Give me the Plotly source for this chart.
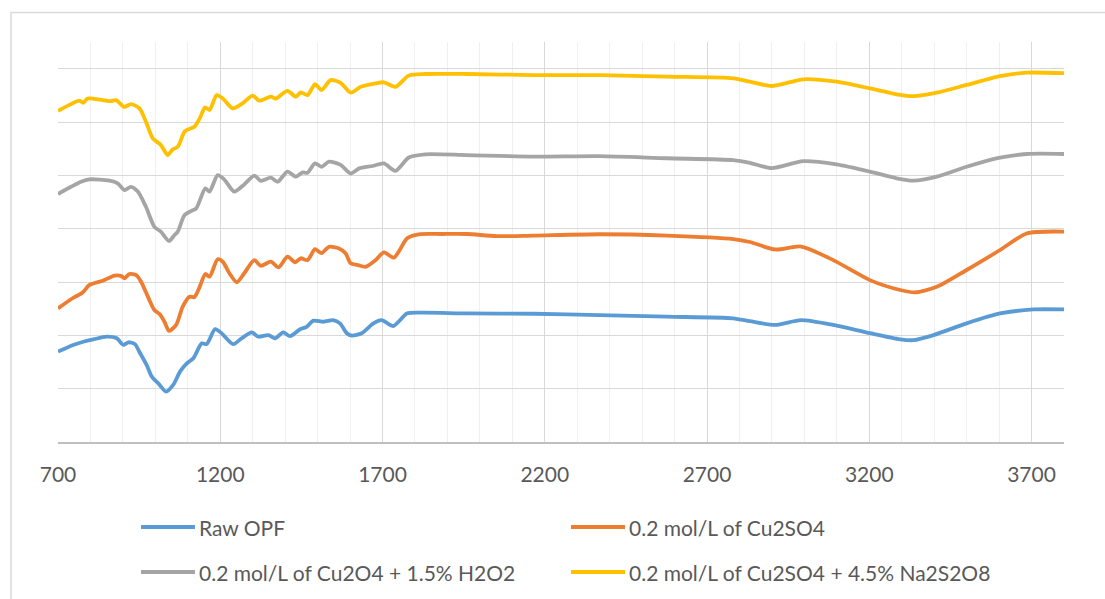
import plotly.graph_objects as go

# ---- data ----
raw_x = [700, 747, 778, 809, 850, 881, 901, 917, 937, 953, 973, 989, 1009, 1033, 1055, 1076, 1097, 1117,
         1143, 1158, 1184, 1204, 1240, 1266, 1297, 1317, 1348, 1369, 1394, 1415, 1446, 1466, 1487, 1518,
         1548, 1569, 1590, 1605, 1636, 1672, 1697, 1733, 1754, 1775, 1826, 1960, 2164, 2370, 2576, 2780,
         2832, 2910, 2990, 3089, 3202, 3295, 3336, 3398, 3500, 3603, 3706, 3800]
raw_y = [33.9, 36.4, 37.6, 38.5, 39.5, 38.9, 36.4, 37.4, 36.7, 33.3, 28.9, 24.5, 22.0, 18.9, 21.4, 26.4, 29.5, 31.4,
         37.0, 36.7, 42.3, 40.8, 36.7, 38.9, 41.1, 39.5, 40.1, 38.9, 41.1, 39.7, 42.3, 43.2, 45.5, 45.1,
         45.7, 44.5, 40.8, 39.9, 40.8, 44.5, 45.7, 43.5, 45.7, 48.2, 48.5, 48.2, 48.1, 47.6, 47.0, 46.4,
         45.3, 43.9, 45.7, 43.9, 40.8, 38.5, 38.2, 40.1, 44.5, 48.2, 49.7, 49.7]

cu_x = [700, 745, 776, 797, 838, 874, 894, 905, 920, 941, 956, 977, 997, 1013, 1028, 1042, 1064, 1084, 1105,
        1120, 1136, 1154, 1167, 1192, 1208, 1228, 1251, 1274, 1305, 1325, 1356, 1380, 1407, 1431, 1448, 1469,
        1492, 1512, 1535, 1566, 1586, 1602, 1622, 1648, 1679, 1704, 1735, 1750, 1776, 1812, 1884, 1960, 2052,
        2164, 2370, 2576, 2781, 2832, 2910, 2990, 3089, 3202, 3295, 3341, 3408, 3500, 3603, 3685, 3800]
cu_y = [50.1, 53.9, 56.1, 58.9, 60.5, 62.4, 62.3, 61.4, 63.0, 62.6, 60.1, 54.5, 49.5, 48.0, 45.1, 41.7, 43.9, 50.7, 54.5,
        54.3, 58.0, 63.0, 62.0, 68.5, 67.6, 63.3, 59.9, 63.3, 68.2, 66.1, 67.6, 65.5, 69.5, 67.4, 68.9, 68.2,
        72.3, 70.8, 73.2, 72.6, 70.8, 67.0, 66.4, 65.7, 68.2, 71.1, 69.1, 71.4, 76.4, 77.9, 78.0, 78.0, 77.2,
        77.4, 77.9, 77.4, 76.1, 75.0, 72.2, 73.3, 68.2, 60.7, 57.0, 56.1, 58.2, 64.5, 72.0, 78.2, 78.9]

h2o2_x = [700, 740, 771, 797, 859, 884, 905, 925, 946, 971, 997, 1017, 1042, 1059, 1069, 1090, 1110, 1126,
          1154, 1167, 1192, 1212, 1243, 1274, 1305, 1325, 1356, 1377, 1407, 1433, 1454, 1469, 1492, 1512,
          1535, 1571, 1602, 1628, 1669, 1704, 1740, 1781, 1832, 1960, 2164, 2370, 2576, 2781, 2832, 2899,
          2997, 3099, 3202, 3284, 3336, 3408, 3500, 3603, 3685, 3800]
h2o2_y = [93.0, 95.7, 97.6, 98.5, 98.0, 97.0, 94.5, 95.7, 93.9, 88.2, 80.7, 78.9, 75.4, 77.6, 78.9, 85.1, 86.6, 87.6,
          95.1, 93.9, 100.1, 98.5, 93.9, 96.6, 99.9, 97.9, 99.1, 97.6, 101.4, 99.5, 101.1, 101.0, 104.5, 103.2,
          105.1, 103.9, 100.7, 102.6, 103.5, 104.5, 101.7, 106.7, 107.9, 107.6, 107.0, 107.2, 106.4, 105.7, 104.7, 102.7,
          105.3, 104.1, 101.4, 98.9, 98.0, 99.5, 103.2, 106.6, 108.0, 108.0]

na_x = [700, 740, 766, 778, 791, 838, 863, 879, 904, 925, 951, 971, 992, 1017, 1038, 1053, 1069, 1090, 1105,
        1120, 1138, 1153, 1167, 1189, 1208, 1238, 1269, 1300, 1320, 1356, 1371, 1407, 1433, 1448, 1469, 1492,
        1512, 1540, 1571, 1602, 1633, 1679, 1704, 1740, 1781, 1832, 1960, 2164, 2370, 2576, 2781, 2832, 2899,
        2997, 3099, 3202, 3284, 3336, 3408, 3500, 3603, 3685, 3800]
na_y = [124.2, 126.7, 128.0, 127.2, 128.8, 128.2, 127.8, 128.2, 125.7, 126.7, 125.1, 120.1, 113.9, 111.4, 107.6, 109.7, 110.7, 116.4, 117.4,
        118.2, 121.7, 125.5, 124.5, 130.1, 128.8, 125.1, 127.0, 129.9, 128.0, 129.5, 128.8, 131.7, 129.5, 131.1, 130.1, 134.2,
        132.0, 135.7, 134.7, 131.0, 133.2, 134.5, 134.9, 133.2, 137.4, 138.0, 138.0, 137.6, 137.6, 137.0, 136.4, 135.1, 133.5,
        136.0, 135.1, 132.6, 130.4, 129.7, 131.0, 133.9, 137.2, 138.5, 138.3]

series_names = ["Raw OPF", "0.2 mol/L of Cu2SO4",
                "0.2 mol/L of Cu2O4 + 1.5% H2O2", "0.2 mol/L of Cu2SO4 + 4.5% Na2S2O8"]
series_colors = ["#5B9BD5", "#ED7D31", "#A5A5A5", "#FFC000"]
tick_vals = [700, 1200, 1700, 2200, 2700, 3200, 3700]

FONT = "Lato"
TXT = "#595959"

fig = go.Figure()
for xs, ys, name, col in zip([raw_x, cu_x, h2o2_x, na_x], [raw_y, cu_y, h2o2_y, na_y],
                             series_names, series_colors):
    fig.add_trace(go.Scatter(x=xs, y=ys, mode="lines", name=name, showlegend=False,
                             line=dict(color=col, width=3.8, shape="spline", smoothing=0.7)))

# manual legend (2 columns x 2 rows)
W, H = 1006.0, 400.0
def px(xp):
    return (xp - 58) / W
def py(yp):
    return (442 - yp) / H

legend_pos = [(141, 527), (571, 527), (141, 572), (571, 572)]
shapes = []
annotations = []
for (lx, ly), name, col in zip(legend_pos, series_names, series_colors):
    shapes.append(dict(type="line", xref="paper", yref="paper", x0=px(lx), x1=px(lx + 54),
                       y0=py(ly), y1=py(ly), line=dict(color=col, width=4)))
    annotations.append(dict(xref="paper", yref="paper", x=px(lx + 56), y=py(ly), text=name,
                            showarrow=False, xanchor="left", yanchor="middle",
                            font=dict(family=FONT, size=21, color=TXT)))

# chart-area border (top & left visible)
shapes.append(dict(type="rect", xref="paper", yref="paper", x0=px(11), x1=px(1200), y0=py(700), y1=py(12.5),
                   line=dict(color="#D9D9D9", width=1.5), fillcolor="rgba(0,0,0,0)", layer="below"))

fig.update_layout(
    width=1105, height=599,
    margin=dict(l=58, r=41, t=42, b=157),
    paper_bgcolor="white", plot_bgcolor="white",
    shapes=shapes, annotations=annotations,
    showlegend=False,
    xaxis=dict(range=[700, 3800], tickmode="array", tickvals=tick_vals,
               ticktext=[str(v) for v in tick_vals],
               showgrid=True, gridcolor="#D9D9D9", gridwidth=1.3,
               minor=dict(dtick=100, tick0=700, showgrid=True, gridcolor="#F0F0F0", gridwidth=1.3),
               showline=True, linecolor="#BFBFBF", linewidth=1.5,
               zeroline=False, ticks="", ticklabelstandoff=13,
               tickfont=dict(family=FONT, size=21, color=TXT)),
    yaxis=dict(range=[0, 150], dtick=20, tick0=0, showgrid=True, gridcolor="#D9D9D9", gridwidth=1.3,
               showticklabels=False, zeroline=False, showline=False, ticks=""),
)

fig.write_html("out.html", config={"displayModeBar": False},
               post_script="document.body.style.margin='0';document.body.style.padding='0';")
